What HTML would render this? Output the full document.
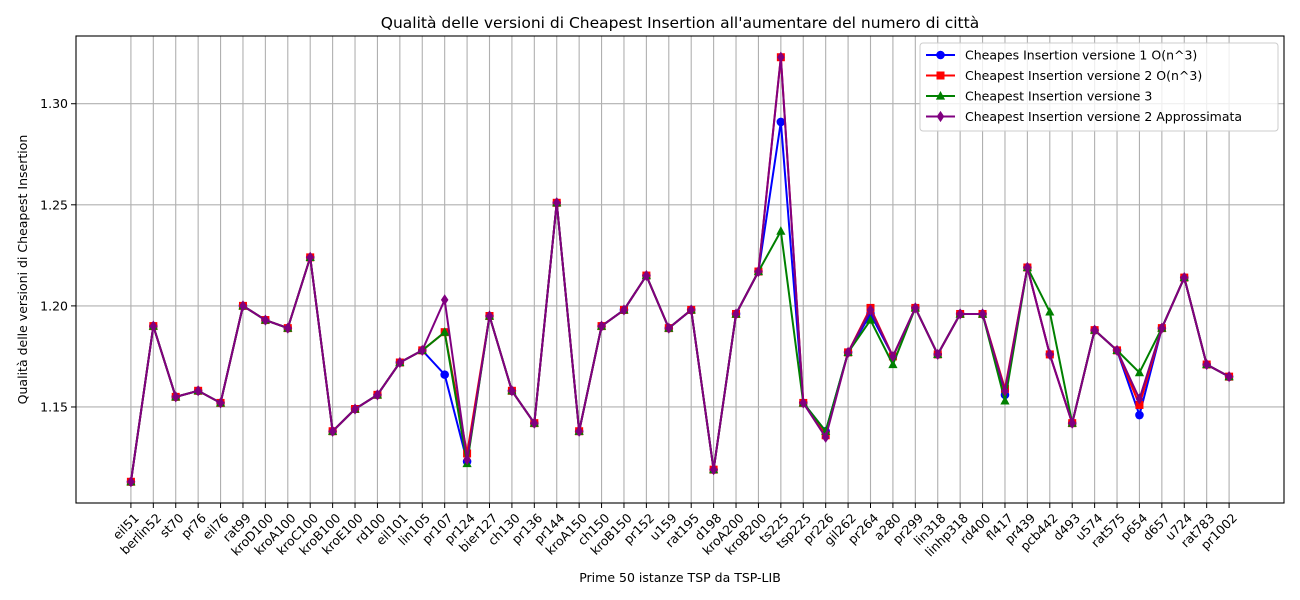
<!DOCTYPE html>
<html><head><meta charset="utf-8"><style>
html,body{margin:0;padding:0;background:#fff;}
svg{display:block;font-family:"DejaVu Sans","Liberation Sans",sans-serif;}
</style></head><body>
<svg id="chart" width="1300" height="600" viewBox="0 0 1300 600" xmlns="http://www.w3.org/2000/svg"></svg>
<script>
const categories=["eil51","berlin52","st70","pr76","eil76","rat99","kroD100","kroA100","kroC100","kroB100","kroE100","rd100","eil101","lin105","pr107","pr124","bier127","ch130","pr136","pr144","kroA150","ch150","kroB150","pr152","u159","rat195","d198","kroA200","kroB200","ts225","tsp225","pr226","gil262","pr264","a280","pr299","lin318","linhp318","rd400","fl417","pr439","pcb442","d493","u574","rat575","p654","d657","u724","rat783","pr1002"];
const base=[1.113,1.190,1.155,1.158,1.152,1.200,1.193,1.189,1.224,1.138,1.149,1.156,1.172,1.178,1.203,1.124,1.195,1.158,1.142,1.251,1.138,1.190,1.198,1.215,1.189,1.198,1.119,1.196,1.217,1.323,1.152,1.136,1.177,1.199,1.175,1.199,1.176,1.196,1.196,1.159,1.219,1.176,1.142,1.188,1.178,1.153,1.189,1.214,1.171,1.165];
const v1=base.slice(),v2=base.slice(),v3=base.slice(),v4=base.slice();
v1[14]=1.166; v2[14]=1.187; v3[14]=1.187; v4[14]=1.203;
v1[15]=1.123; v2[15]=1.127; v3[15]=1.122; v4[15]=1.124;
v1[29]=1.291; v2[29]=1.323; v3[29]=1.237; v4[29]=1.323;
v1[31]=1.138; v2[31]=1.136; v3[31]=1.138; v4[31]=1.135;
v1[33]=1.196; v2[33]=1.199; v3[33]=1.193; v4[33]=1.198;
v3[34]=1.171;
v1[39]=1.156; v2[39]=1.159; v3[39]=1.153; v4[39]=1.158;
v3[41]=1.197;
v1[45]=1.146; v2[45]=1.151; v3[45]=1.167; v4[45]=1.154;
const yTicks=[1.15,1.20,1.25,1.30];
const yTickLabels=["1.15","1.20","1.25","1.30"];
const seriesNames=["Cheapes Insertion versione 1 O(n^3)","Cheapest Insertion versione 2 O(n^3)","Cheapest Insertion versione 3","Cheapest Insertion versione 2 Approssimata"];

const NS="http://www.w3.org/2000/svg";
const svg=document.getElementById('chart');
const L=76,R=1284,T=36,B=503;
function mk(tag,attrs,parent){const e=document.createElementNS(NS,tag);for(const k in attrs)e.setAttribute(k,attrs[k]);(parent||svg).appendChild(e);return e;}
const n=categories.length;
const allVals=[].concat(v1,v2,v3,v4);
const dmin=Math.min(...allVals),dmax=Math.max(...allVals),dr=dmax-dmin;
const y0=dmin-0.05*dr,y1=dmax+0.05*dr;
const xs=i=>L+(R-L)*(i+0.05*(n-1))/((n-1)*1.1);
const ys=v=>B-(v-y0)/(y1-y0)*(B-T);

const grid=mk('g',{});
categories.forEach((c,i)=>{const l=mk('line',{x1:xs(i),x2:xs(i),y1:T,y2:B,stroke:'#b0b0b0','stroke-width':1.1},grid);});
yTicks.forEach(t=>{const l=mk('line',{x1:L,x2:R,y1:ys(t),y2:ys(t),stroke:'#b0b0b0','stroke-width':1.1},grid);});

const xa=mk('g',{});
categories.forEach((c,i)=>{const x=xs(i);mk('line',{x1:x,x2:x,y1:B,y2:B+5,stroke:'#000','stroke-width':1},xa);
 const ax=x+2,ay=B+9;
 const t=mk('text',{x:ax,y:ay,'font-size':12.5,'text-anchor':'end',transform:`rotate(-45 ${ax} ${ay})`,'dominant-baseline':'hanging'},xa);t.textContent=c;
 });
const ya=mk('g',{});
yTicks.forEach((tv,i)=>{const y=ys(tv);mk('line',{x1:L-5,x2:L,y1:y,y2:y,stroke:'#000','stroke-width':1},ya);
 const t=mk('text',{x:L-8,y:y+4.5,'font-size':12.5,'text-anchor':'end'},ya);t.textContent=yTickLabels[i];
 });

const colors=['#0000ff','#ff0000','#008000','#800080'];
const data=[v1,v2,v3,v4];
function marker(k,x,y,g){
 if(k===0) return mk('circle',{cx:x,cy:y,r:4.3,fill:colors[k]},g);
 if(k===1) return mk('rect',{x:x-4,y:y-4,width:8,height:8,fill:colors[k]},g);
 if(k===2) return mk('polygon',{points:`${x},${y-5} ${x+4.6},${y+3.6} ${x-4.6},${y+3.6}`,fill:colors[k]},g);
 return mk('polygon',{points:`${x},${y-5.6} ${x+3.8},${y} ${x},${y+5.6} ${x-3.8},${y}`,fill:colors[k]},g);
}
data.forEach((vals,k)=>{const g=mk('g',{});
 const p=mk('polyline',{points:vals.map((v,i)=>xs(i)+','+ys(v)).join(' '),fill:'none',stroke:colors[k],'stroke-width':2},g);
 
 vals.forEach((v,i)=>{const m=marker(k,xs(i),ys(v),g);});});

const frame=mk('rect',{x:L,y:T,width:R-L,height:B-T,fill:'none',stroke:'#000','stroke-width':1.1});


const title=mk('text',{x:(L+R)/2,y:28,'font-size':15.5,'text-anchor':'middle'});title.textContent="Qualità delle versioni di Cheapest Insertion all'aumentare del numero di città";

const xt=mk('text',{x:(L+R)/2,y:582,'font-size':12.5,'text-anchor':'middle'});xt.textContent="Prime 50 istanze TSP da TSP-LIB";

const yt=mk('text',{x:27,y:(T+B)/2,'font-size':12.5,'text-anchor':'middle',transform:`rotate(-90 27 ${(T+B)/2})`});yt.textContent="Qualità delle versioni di Cheapest Insertion";


const lg=mk('g',{});
mk('rect',{x:920,y:43,width:358,height:88,rx:3,fill:'#fff','fill-opacity':0.8,stroke:'#cccccc'},lg);
seriesNames.forEach((s,k)=>{const y=55+k*20.5;const e=mk('g',{},lg);
 mk('line',{x1:926,x2:955,y1:y,y2:y,stroke:colors[k],'stroke-width':2},e);marker(k,940.5,y,e);
 const t=mk('text',{x:965,y:y+4.5,'font-size':12.5},e);t.textContent=s;});
</script>
</body></html>
